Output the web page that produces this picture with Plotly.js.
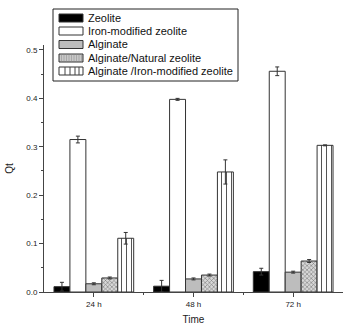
<!DOCTYPE html>
<html><head><meta charset="utf-8">
<script src="https://cdn.plot.ly/plotly-3.0.1.min.js"></script>
<style>html,body{margin:0;padding:0;background:#fff;}#chart{width:343px;height:325px;}</style>
</head><body><div id="chart"></div>
<script>
var times = ["24 h", "48 h", "72 h"];
var xpos = [1, 2, 3];
var seriesNames = ["Zeolite", "Iron-modified zeolite", "Alginate", "Alginate/Natural zeolite", "Alginate /Iron-modified zeolite"];
var zeolite = [0.011, 0.012, 0.042];
var zeoliteErr = [0.009, 0.012, 0.007];
var ironZeolite = [0.315, 0.398, 0.456];
var ironZeoliteErr = [0.007, 0.002, 0.009];
var alginate = [0.017, 0.027, 0.041];
var alginateErr = [0.002, 0.002, 0.002];
var algNatural = [0.029, 0.035, 0.064];
var algNaturalErr = [0.002, 0.002, 0.003];
var algIron = [0.111, 0.248, 0.303];
var algIronErr = [0.012, 0.025, 0.001];

var line = {color: "#333", width: 1};
var eb = function(a){ return {type: "data", array: a, visible: true, color: "#333", thickness: 1, width: 2}; };

var traces = [
  {type: "bar", name: seriesNames[0], x: xpos, y: zeolite, error_y: eb(zeoliteErr),
   marker: {color: "#000", line: line}},
  {type: "bar", name: seriesNames[1], x: xpos, y: ironZeolite, error_y: eb(ironZeoliteErr),
   marker: {color: "#fff", line: line}},
  {type: "bar", name: seriesNames[2], x: xpos, y: alginate, error_y: eb(alginateErr),
   marker: {color: "#bdbdbd", line: line}},
  {type: "bar", name: seriesNames[3], x: xpos, y: algNatural, error_y: eb(algNaturalErr),
   marker: {color: "#ccc", line: line, pattern: {shape: "x", fgcolor: "#777", bgcolor: "#d8d8d8", size: 3, solidity: 0.35}}},
  {type: "bar", name: seriesNames[4], x: xpos, y: algIron, error_y: eb(algIronErr),
   marker: {color: "#fff", line: line, pattern: {shape: "|", fgcolor: "#555", bgcolor: "#fff", size: 5, solidity: 0.2}}}
];

// manual legend (layout decoration), pixel -> paper conversion
var L = 44, W = 299, B = 292, H = 247;
function px(x){ return (x - L) / W; }
function py(y){ return (B - y) / H; }
var shapes = [
  {type: "rect", xref: "paper", yref: "paper", x0: px(53), x1: px(238), y0: py(81), y1: py(9),
   line: {color: "#222", width: 1}, fillcolor: "#fff", layer: "above"}
];
var annotations = [];
var rowY = [18, 31, 44.5, 58, 71];
var fills = ["#000", "#fff", "#bdbdbd", "#c8c8c8", "#fff"];
for (var i = 0; i < seriesNames.length; i++) {
  var yc = rowY[i];
  shapes.push({type: "rect", xref: "paper", yref: "paper", x0: px(59), x1: px(83), y0: py(yc + 4), y1: py(yc - 4),
    line: {color: "#333", width: 1}, fillcolor: fills[i], layer: "above"});
  annotations.push({xref: "paper", yref: "paper", x: px(86), y: py(yc), xanchor: "left", yanchor: "middle",
    text: seriesNames[i], showarrow: false, font: {size: 11, color: "#111"}});
}
// dotted texture for Alginate/Natural zeolite swatch
for (var dx = 61; dx < 83; dx += 2.5) {
  for (var dy = rowY[3] - 3; dy <= rowY[3] + 3; dy += 2) {
    shapes.push({type: "rect", xref: "paper", yref: "paper", x0: px(dx), x1: px(dx + 1), y0: py(dy + 0.5), y1: py(dy - 0.5),
      line: {width: 0}, fillcolor: "#888", layer: "above"});
  }
}
// vertical lines for Alginate /Iron-modified zeolite swatch
[65, 70, 75, 79].forEach(function(x){
  shapes.push({type: "line", xref: "paper", yref: "paper", x0: px(x), x1: px(x), y0: py(rowY[4] + 4), y1: py(rowY[4] - 4),
    line: {color: "#444", width: 1}, layer: "above"});
});

var layout = {
  width: 343, height: 325,
  margin: {l: 44, r: 0, t: 45, b: 33},
  paper_bgcolor: "#fff", plot_bgcolor: "#fff",
  barmode: "group", bargap: 0.2, bargroupgap: 0,
  font: {family: "Liberation Sans, Arial, sans-serif", color: "#222", size: 8},
  showlegend: false,
  shapes: shapes,
  annotations: annotations,
  xaxis: {range: [0.5, 3.5], tickvals: xpos, ticktext: times, showline: true, linecolor: "#444",
    linewidth: 1, ticks: "outside", ticklen: 4, tickcolor: "#444", showgrid: false, zeroline: false,
    minor: {tickvals: [1.5, 2.5], ticks: "outside", ticklen: 2, tickcolor: "#444"},
    title: {text: "Time", font: {size: 10}, standoff: 9}},
  yaxis: {range: [0, 0.5103], tickvals: [0, 0.1, 0.2, 0.3, 0.4, 0.5],
    ticktext: ["0.0", "0.1", "0.2", "0.3", "0.4", "0.5"], showline: true, linecolor: "#444",
    linewidth: 1, ticks: "outside", ticklen: 4, tickcolor: "#444", showgrid: false, zeroline: false,
    minor: {tickvals: [0.05, 0.15, 0.25, 0.35, 0.45], ticks: "outside", ticklen: 2, tickcolor: "#444"},
    title: {text: "Qt", font: {size: 10}, standoff: 10}}
};
Plotly.newPlot("chart", traces, layout, {displayModeBar: false, staticPlot: true});
</script></body></html>
